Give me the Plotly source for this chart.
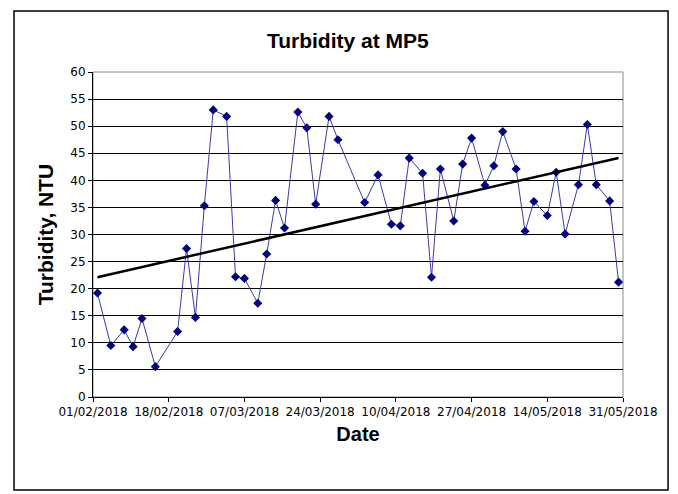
import numpy as np
import pandas as pd
import plotly.graph_objects as go

dates = ["2018-02-02", "2018-02-05", "2018-02-08", "2018-02-10", "2018-02-12", "2018-02-15",
         "2018-02-20", "2018-02-22", "2018-02-24", "2018-02-26", "2018-02-28", "2018-03-03",
         "2018-03-05", "2018-03-07", "2018-03-10", "2018-03-12", "2018-03-14", "2018-03-16",
         "2018-03-19", "2018-03-21", "2018-03-23", "2018-03-26", "2018-03-28", "2018-04-03",
         "2018-04-06", "2018-04-09", "2018-04-11", "2018-04-13", "2018-04-16", "2018-04-18",
         "2018-04-20", "2018-04-23", "2018-04-25", "2018-04-27", "2018-04-30", "2018-05-02",
         "2018-05-04", "2018-05-07", "2018-05-09", "2018-05-11", "2018-05-14", "2018-05-16",
         "2018-05-18", "2018-05-21", "2018-05-23", "2018-05-25", "2018-05-28", "2018-05-30"]
turbidity = [19.2, 9.5, 12.4, 9.3, 14.5, 5.6,
             12.1, 27.4, 14.7, 35.3, 53.0, 51.8,
             22.2, 21.9, 17.3, 26.4, 36.3, 31.2,
             52.6, 49.7, 35.6, 51.8, 47.5, 35.9,
             41.0, 31.9, 31.6, 44.1, 41.3, 22.1,
             42.1, 32.5, 43.0, 47.8, 39.1, 42.7,
             49.0, 42.1, 30.6, 36.1, 33.5, 41.5,
             30.1, 39.2, 50.3, 39.2, 36.2, 21.2]

x_start = "2018-02-01"
x_end = "2018-05-31"

# Linear trendline (least squares on day number)
dt = pd.to_datetime(dates)
days = (dt - pd.Timestamp(x_start)).days.values.astype(float)
slope, intercept = np.polyfit(days, np.array(turbidity), 1)
trend_days = np.array([days.min(), days.max()])
trend_x = [pd.Timestamp(x_start) + pd.Timedelta(days=d) for d in trend_days]
trend_y = slope * trend_days + intercept

fig = go.Figure()
fig.add_trace(go.Scatter(
    x=dates, y=turbidity, mode="lines+markers",
    line=dict(color="#3a3aa8", width=1),
    marker=dict(symbol="diamond", size=7, color="#000080"),
    showlegend=False, hoverinfo="x+y"))
fig.add_trace(go.Scatter(
    x=trend_x, y=trend_y, mode="lines",
    line=dict(color="black", width=2.5), showlegend=False, hoverinfo="skip"))

title_font = "Arial, Liberation Sans, sans-serif"
fig.update_layout(
    width=678, height=494,
    margin=dict(l=93, r=55, t=72, b=97),
    paper_bgcolor="white", plot_bgcolor="white",
    font=dict(family="DejaVu Sans, sans-serif", color="black", size=12),
    title=dict(text="<b>Turbidity at MP5</b>", x=0.513, xref="container", xanchor="center",
               y=0.917, yref="container", yanchor="middle",
               font=dict(family=title_font, size=21, color="black")),
    shapes=[
        dict(type="rect", xref="paper", yref="paper", x0=-0.149, x1=1.085, y0=-0.286, y1=1.188,
             line=dict(color="black", width=1.5), layer="below"),
        dict(type="rect", xref="paper", yref="paper", x0=0, x1=1, y0=0, y1=1,
             line=dict(color="#8c8c8c", width=1), layer="below"),
    ],
)

fig.update_xaxes(
    type="date", range=[x_start, x_end],
    tick0=x_start, dtick=17 * 86400000, tickformat="%d/%m/%Y",
    ticks="outside", ticklen=4, tickcolor="black",
    showline=True, linecolor="black", linewidth=1,
    showgrid=False, zeroline=False,
    tickfont=dict(size=12),
    title=dict(text="<b>Date</b>", font=dict(family=title_font, size=20), standoff=8),
)
fig.update_yaxes(
    range=[0, 60], dtick=5, tick0=0,
    ticks="outside", ticklen=4, tickcolor="black",
    showline=True, linecolor="black", linewidth=1,
    showgrid=True, gridcolor="black", gridwidth=1,
    zeroline=False,
    tickfont=dict(size=12),
    title=dict(text="<b>Turbidity, NTU</b>", font=dict(family=title_font, size=21), standoff=10),
)

fig.write_html("out.html", config={"displayModeBar": False},
               post_script="document.body.style.margin='0';")
